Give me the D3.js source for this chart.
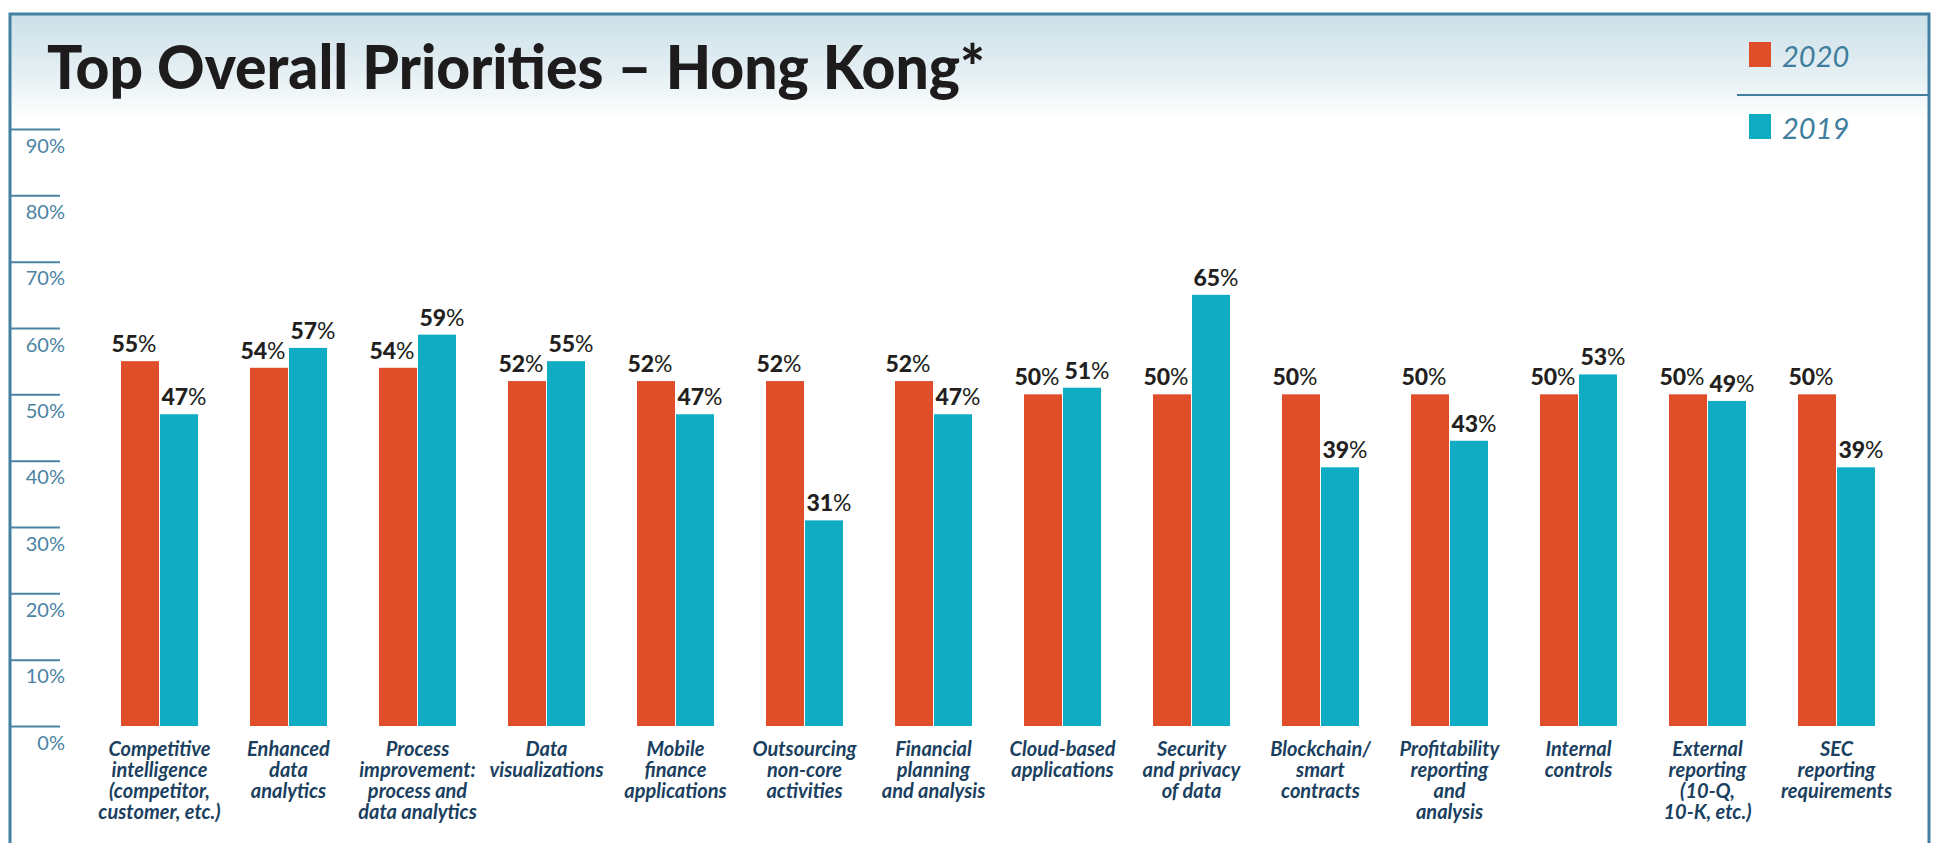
<!DOCTYPE html>
<html>
<head>
<meta charset="utf-8">
<script src="https://cdn.jsdelivr.net/npm/d3@7"></script>
<style>
  html, body { margin: 0; padding: 0; background: #fff; }
  svg { display: block; font-family: Lato, "Open Sans", sans-serif; }
</style>
</head>
<body>
<script>
// data
var categories = [
  'Competitive\nintelligence\n(competitor,\ncustomer, etc.)',
  'Enhanced\ndata\nanalytics',
  'Process\nimprovement:\nprocess and\ndata analytics',
  'Data\nvisualizations',
  'Mobile\nfinance\napplications',
  'Outsourcing\nnon-core\nactivities',
  'Financial\nplanning\nand analysis',
  'Cloud-based\napplications',
  'Security\nand privacy\nof data',
  'Blockchain/\nsmart\ncontracts',
  'Profitability\nreporting\nand\nanalysis',
  'Internal\ncontrols',
  'External\nreporting\n(10-Q,\n10-K, etc.)',
  'SEC\nreporting\nrequirements'
];
var values2020 = [55, 54, 54, 52, 52, 52, 52, 50, 50, 50, 50, 50, 50, 50];
var values2019 = [47, 57, 59, 55, 47, 31, 47, 51, 65, 39, 43, 53, 49, 39];
var seriesNames = ['2020', '2019'];
var yTicks = [0, 10, 20, 30, 40, 50, 60, 70, 80, 90];
var title = 'Top Overall Priorities \u2013 Hong Kong*';

var W = 1938, H = 843;
var colors = { '2020': '#e04d29', '2019': '#10acc3' };
var frameCol = '#41809f';

var svg = d3.select('body').append('svg').attr('width', W).attr('height', H);

// title band gradient
var defs = svg.append('defs');
var grad = defs.append('linearGradient').attr('id', 'hdr')
  .attr('x1', 0).attr('y1', 0).attr('x2', 0).attr('y2', 1);
grad.append('stop').attr('offset', '0%').attr('stop-color', '#cbe0e8');
grad.append('stop').attr('offset', '55%').attr('stop-color', '#e4eff3');
grad.append('stop').attr('offset', '100%').attr('stop-color', '#ffffff');
svg.append('rect').attr('x', 10).attr('y', 14).attr('width', 1919).attr('height', 105)
  .attr('fill', 'url(#hdr)');

// frame
svg.append('path')
  .attr('d', 'M10,843 L10,14 L1929,14 L1929,843')
  .attr('fill', 'none').attr('stroke', frameCol).attr('stroke-width', 3);

// title
var t = svg.append('text').attr('x', 47).attr('y', 89)
  .attr('font-size', 60).attr('font-weight', 900).attr('fill', '#1e1b1c')
  .text(title);
t.attr('textLength', 938).attr('lengthAdjust', 'spacingAndGlyphs');

// scales
var x = d3.scaleBand().domain(d3.range(categories.length))
  .range([95, 1901]).paddingInner(0.403).paddingOuter(0.2015);
var xs = d3.scaleBand().domain(seriesNames).range([0, x.bandwidth()]).paddingInner(1 / 39);
var y = d3.scaleLinear().domain([0, 90]).range([726, 129]);

// y axis
var axis = svg.append('g').attr('transform', 'translate(10,0)')
  .call(d3.axisRight(y).tickValues(yTicks).tickSize(50).tickFormat(function (d) { return d + '%'; }));
axis.select('.domain').remove();
axis.selectAll('line').attr('stroke', '#4b83a3').attr('stroke-width', 2);
axis.selectAll('text')
  .attr('x', 55).attr('dy', 23).attr('text-anchor', 'end')
  .attr('font-size', 20).attr('font-family', 'Lato, sans-serif').attr('fill', '#4b83a3');

// bars
var rows = categories.map(function (c, i) {
  return { i: i, vals: [{ s: '2020', v: values2020[i] }, { s: '2019', v: values2019[i] }] };
});
var g = svg.selectAll('g.grp').data(rows).enter().append('g')
  .attr('class', 'grp')
  .attr('transform', function (d) { return 'translate(' + x(d.i) + ',0)'; });

g.selectAll('rect').data(function (d) { return d.vals; }).enter().append('rect')
  .attr('x', function (d) { return xs(d.s); })
  .attr('y', function (d) { return y(d.v); })
  .attr('width', xs.bandwidth())
  .attr('height', function (d) { return y(0) - y(d.v); })
  .attr('fill', function (d) { return colors[d.s]; });

var lab = g.selectAll('text.val').data(function (d) { return d.vals; }).enter().append('text')
  .attr('class', 'val')
  .attr('x', function (d) { return xs(d.s) + xs.bandwidth() / 2 + (d.s === '2020' ? -6 : 5); })
  .attr('y', function (d) { return y(d.v) - 9; })
  .attr('text-anchor', 'middle').attr('font-size', 23).attr('fill', '#231f20');
lab.append('tspan').attr('font-weight', 900).text(function (d) { return d.v; });
lab.append('tspan').attr('font-weight', 400).text('%');

// category labels
g.append('text')
  .attr('text-anchor', 'middle')
  .attr('font-size', 20).attr('font-weight', 700).attr('font-style', 'italic')
  .attr('fill', '#1b3f5f')
  .each(function (d) {
    var el = d3.select(this);
    categories[d.i].split('\n').forEach(function (line, k) {
      el.append('tspan').attr('x', x.bandwidth() / 2).attr('y', 756 + k * 21).text(line);
    });
  });

// legend
var legY = [42, 114];
seriesNames.forEach(function (s, k) {
  svg.append('rect').attr('x', 1749).attr('y', legY[k]).attr('width', 22).attr('height', 25)
    .attr('fill', colors[s]);
  svg.append('text').attr('x', 1782).attr('y', legY[k] + 25)
    .attr('font-size', 29).attr('font-style', 'italic').attr('fill', '#3f7e9c')
    .text(s);
});
svg.append('line').attr('x1', 1737).attr('x2', 1929).attr('y1', 95).attr('y2', 95)
  .attr('stroke', frameCol).attr('stroke-width', 2);
</script>
</body>
</html>
